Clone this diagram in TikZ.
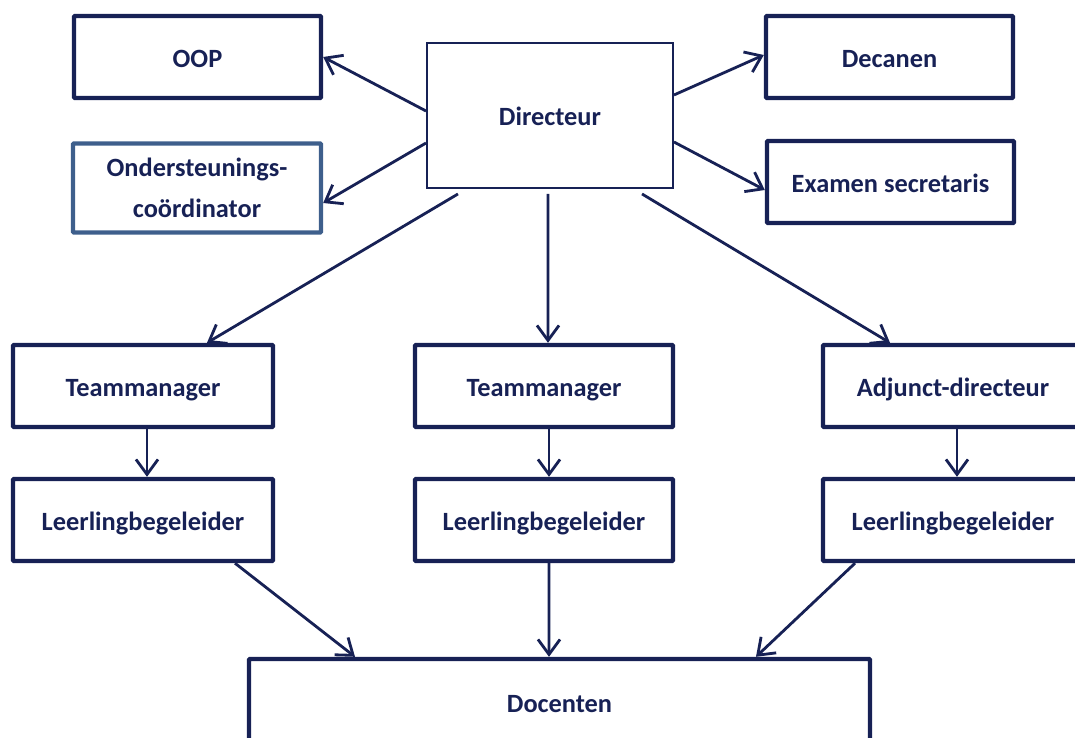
\documentclass[tikz,border=0pt]{standalone}
\usepackage{fontspec}
\setmainfont{Carlito}
\usetikzlibrary{arrows.meta}
\definecolor{navy}{RGB}{23,33,85}
\definecolor{steel}{RGB}{62,95,140}

\begin{document}
\begin{tikzpicture}[
		box/.style={draw=navy, line width=2.5pt, rounded corners=0.6pt, text=navy,
			font=\fontsize{15}{23}\selectfont\bfseries, align=center,
			minimum width=4.94cm, minimum height=1.64cm, inner sep=0pt,
			text height=13pt, text depth=1.5pt},
		wide/.style={minimum width=5.2cm},
		pijl/.style={draw=navy, line width=1.6pt, -{Straight Barb[length=0.3cm,width=0.44cm,line width=1.6pt]}}
	]
			\clip (0,0) rectangle (21.5,-14.76);
			\node[box, line width=1.1pt, rounded corners=0pt, minimum width=4.92cm, minimum height=2.9cm] (directeur) at (11.0,-2.31) {Directeur};
			\node[box] (oop) at (3.95,-1.14) {OOP};
			\node[box, draw=steel, text height=, text depth=, minimum width=4.96cm, minimum height=1.78cm] (onder) at (3.94,-3.76) {Ondersteunings-\\coördinator};
			\node[box] (decanen) at (17.79,-1.14) {Decanen};
			\node[box] (examen) at (17.81,-3.64) {Examen secretaris};
			\node[box, wide] (tm1) at (2.86,-7.72) {Teammanager};
			\node[box, wide, minimum width=5.16cm] (tm2) at (10.88,-7.72) {Teammanager};
			\node[box, wide] (adj) at (19.06,-7.72) {Adjunct-directeur};
			\node[box, wide] (lb1) at (2.86,-10.4) {Leerlingbegeleider};
			\node[box, wide, minimum width=5.16cm] (lb2) at (10.88,-10.4) {Leerlingbegeleider};
			\node[box, wide] (lb3) at (19.06,-10.4) {Leerlingbegeleider};
			\node[box, minimum width=12.42cm, minimum height=1.72cm] (docenten) at (11.19,-14.04) {Docenten};
			\draw[pijl] ([yshift=0.09cm]directeur.west) -- (oop.east);
			\draw[pijl] ([yshift=-0.55cm]directeur.west) -- ([yshift=-0.3cm]onder.east);
			\draw[pijl] ([yshift=0.41cm]directeur.east) -- ([yshift=0.04cm]decanen.west);
			\draw[pijl] ([yshift=-0.53cm]directeur.east) -- ([yshift=-0.16cm]examen.west);
			\draw[pijl] ([xshift=-1.84cm,yshift=-0.1cm]directeur.south) -- ([xshift=1.28cm]tm1.north);
			\draw[pijl] ([xshift=-0.04cm,yshift=-0.1cm]directeur.south) -- ([xshift=0.08cm]tm2.north);
			\draw[pijl] ([xshift=1.84cm,yshift=-0.1cm]directeur.south) -- ([xshift=-1.26cm]adj.north);
			\draw[pijl] ([xshift=0.08cm]tm1.south) -- ([xshift=0.08cm]lb1.north);
			\draw[pijl] ([xshift=0.1cm]tm2.south) -- ([xshift=0.1cm]lb2.north);
			\draw[pijl] ([xshift=0.08cm]adj.south) -- ([xshift=0.08cm]lb3.north);
			\draw[pijl] ([xshift=1.84cm]lb1.south) -- ([xshift=-4.09cm]docenten.north);
			\draw[pijl] ([xshift=0.1cm]lb2.south) -- ([xshift=-0.21cm]docenten.north);
			\draw[pijl] ([xshift=-1.96cm]lb3.south) -- ([xshift=3.93cm]docenten.north);
		\end{tikzpicture}
\end{document}
